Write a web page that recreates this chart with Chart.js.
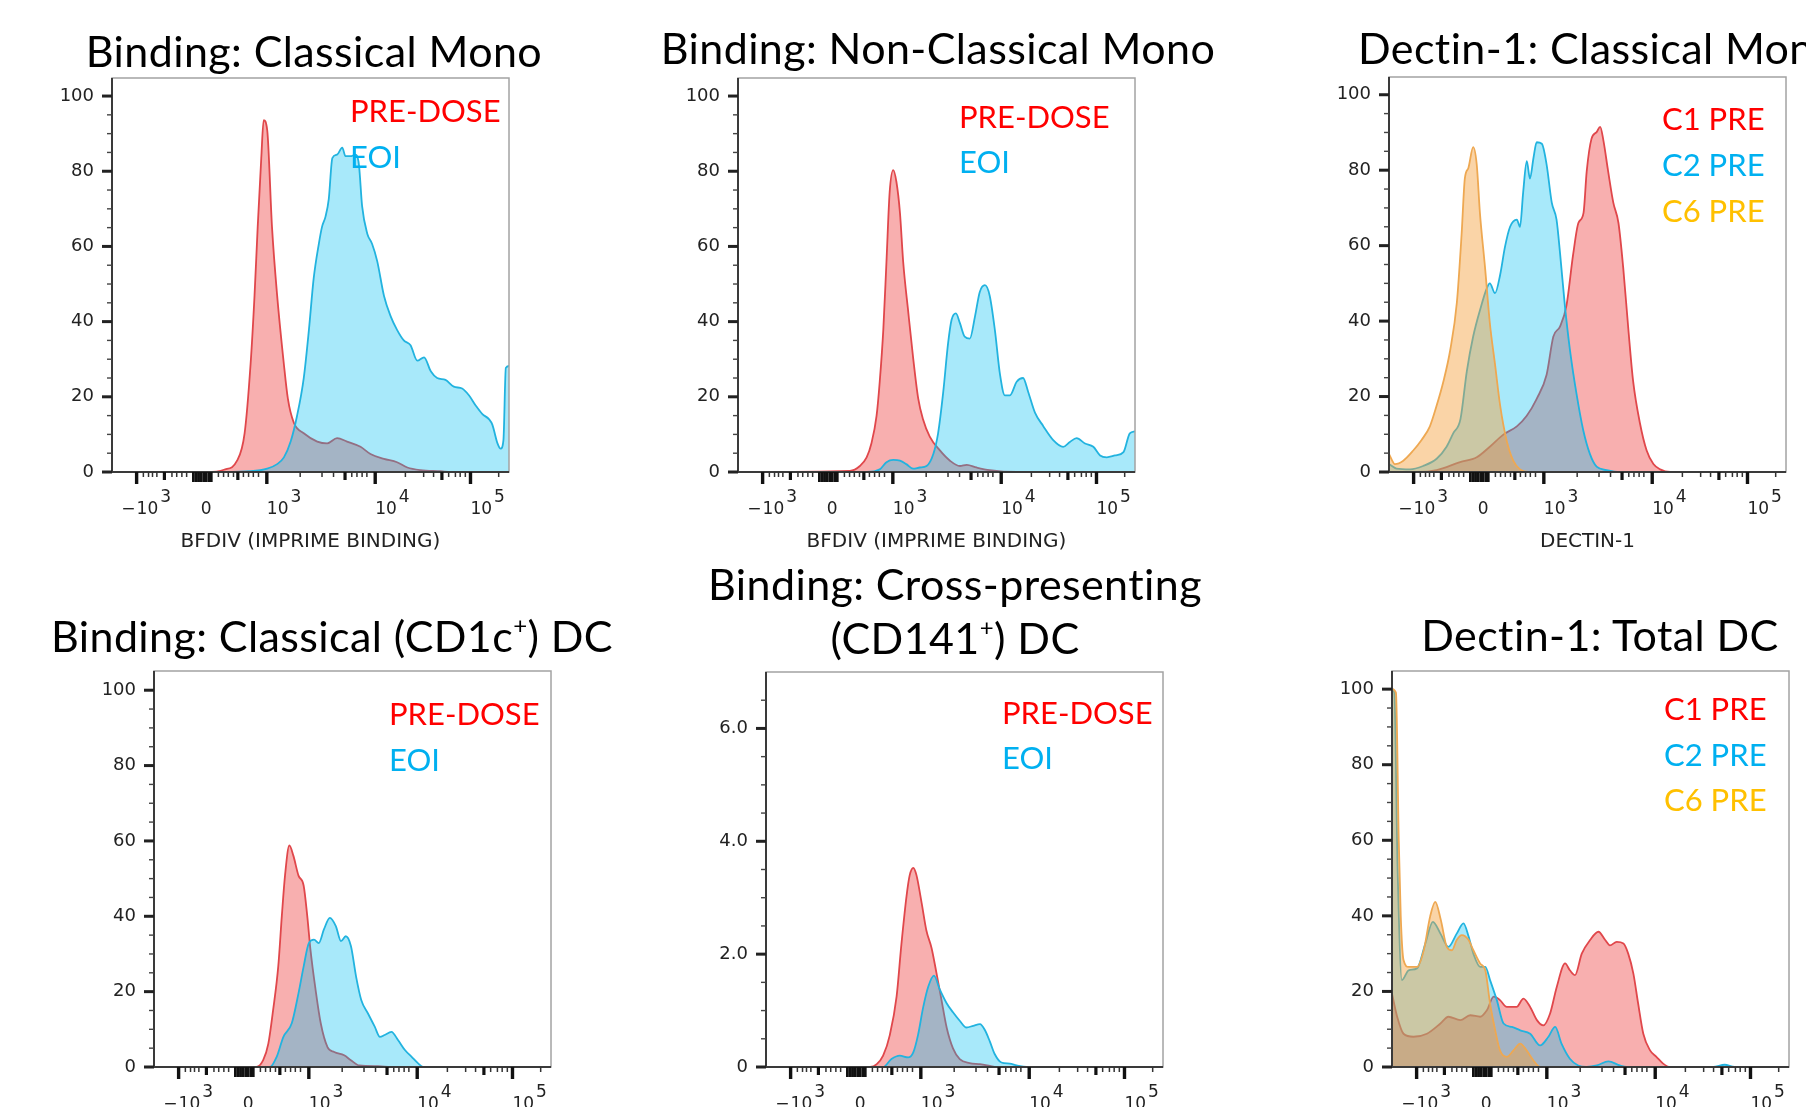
<!DOCTYPE html>
<html>
<head>
<meta charset="utf-8">
<script src="https://cdn.jsdelivr.net/npm/chart.js@4.4.1/dist/chart.umd.min.js"></script>
<style>
  html, body { margin: 0; padding: 0; background: #fff; overflow: hidden; }
  #stage { position: relative; width: 1806px; height: 1107px; overflow: hidden; background: #fff; }
  #stage canvas { position: absolute; }
  .title {
    position: absolute;
    font-family: Lato, "Open Sans", sans-serif;
    font-size: 43px;
    line-height: 43px;
    letter-spacing: 0.4px;
    color: #000;
    white-space: nowrap;
  }
  .title sup { font-size: 24px; line-height: 0; vertical-align: 0; position: relative; top: -18px; }
  .center { transform: translateX(-50%); text-align: center; }
</style>
</head>
<body>
<div id="stage">
  <canvas id="p1"></canvas>
  <canvas id="p2"></canvas>
  <canvas id="p3"></canvas>
  <canvas id="p4"></canvas>
  <canvas id="p5"></canvas>
  <canvas id="p6"></canvas>
  <div class="title center" id="t1">Binding: Classical Mono</div>
  <div class="title center" id="t2">Binding: Non-Classical Mono</div>
  <div class="title" id="t3">Dectin-1: Classical Mono</div>
  <div class="title center" id="t4">Binding: Classical (CD1c<sup>+</sup>) DC</div>
  <div class="title center" id="t5" style="line-height:54px">Binding: Cross-presenting<br>(CD141<sup>+</sup>) DC</div>
  <div class="title center" id="t6">Dectin-1: Total DC</div>
</div>
<script>
// x values are display positions on the biexponential axis (0 = left edge, 100 = right edge)

// shared x axis ticks and labels
const xDecadeTicks = [6.2, 39.0, 66.3, 90.3];
const xHalfTicks = [13.2, 31.7, 58.7, 83.1];
const xZeroTicks = [20.5, 21.2, 21.8, 22.4, 23.1, 23.7, 24.4, 25.0];
const xMinorTicks = [7.9, 9.2, 10.2, 11.3, 15.1, 16.3, 17.6, 18.8, 26.8, 28.1, 29.3, 30.6,
  33.1, 34.4, 35.6, 36.9, 47.4, 52.9, 55.8, 60.4, 61.7, 63.0, 64.2, 73.9, 78.5, 81.0,
  84.8, 86.5, 87.7, 89.0, 97.4];
const xLabelPos = [6.2, 23.7, 39.0, 66.3, 90.3];
const xLabelBase = ["−10", "0", "10", "10", "10"];
const xLabelExp = ["3", "", "3", "4", "5"];

// y axis ticks
const yPctLabels = [0, 20, 40, 60, 80, 100];
const yPctText = ["0", "20", "40", "60", "80", "100"];
const yPctMinor = [5, 10, 15, 25, 30, 35, 45, 50, 55, 65, 70, 75, 85, 90, 95];
const yCdLabels = [0, 2, 4, 6];
const yCdText = ["0", "2.0", "4.0", "6.0"];
const yCdMinor = [0.5, 1, 1.5, 2.5, 3, 3.5, 4.5, 5, 5.5, 6.5];

// Binding: Classical Mono
const p1PreX = [0, 23.9, 28.2, 31.5, 33.4, 34.9, 35.9, 36.7, 37.6, 38.2, 39.1, 40.3, 41.6, 43.3,
  44.3, 45.8, 48.3, 51.7, 54.2, 56.7, 59.2, 62.6, 65.1, 68.5, 71.8, 74.4, 77.7, 82.8, 85.3, 100];
const p1PreY = [0, 0, 0.6, 3.0, 10.3, 28.6, 46.9, 65.2, 83.5, 93.6, 90.9, 65.2, 46.9, 28.6,
  19.5, 13.1, 10.3, 8.1, 7.6, 9.0, 8.1, 6.7, 4.8, 3.5, 2.6, 1.2, 0.5, 0.2, 0, 0];
const p1EoiX = [0, 28.2, 34.9, 39.1, 41.6, 43.3, 45.0, 46.6, 48.3, 49.6, 50.8, 52.1, 52.9, 53.8,
  54.6, 55.5, 56.7, 58.0, 58.8, 60.1, 61.3, 62.2, 63.0, 64.3, 65.5, 66.8, 68.5, 70.2, 71.8,
  73.5, 75.2, 76.9, 78.6, 80.3, 81.9, 84.0, 86.1, 88.2, 89.9, 91.6, 93.3, 95.0, 95.8, 97.1,
  97.9, 98.6, 99.2, 100];
const p1EoiY = [0, 0, 0.2, 0.9, 2.1, 3.9, 8.1, 14.9, 25, 37.8, 51.5, 60.7, 65.2, 68,
  72.6, 83.5, 84.4, 86.3, 84, 84, 84.4, 81.7, 70.7, 63.4, 60.7, 56.1, 46.9, 41.4, 37.8,
  35, 33.7, 29.6, 30.5, 26.8, 25, 24.5, 22.7, 22.2, 20.4, 17.7, 15.4, 14, 12.6, 7.6,
  6.2, 8.5, 27.7, 28.2];

// Binding: Non-Classical Mono
const p2PreX = [0, 28.2, 30.7, 32.4, 33.6, 34.9, 35.7, 36.6, 37.4, 38.2, 39.1, 39.9, 40.8, 41.6,
  42.9, 44.1, 45.4, 46.6, 48.3, 50.8, 53.4, 55.9, 57.6, 60.1, 63.4, 70.2, 100];
const p2PreY = [0, 0.3, 1.6, 3.9, 7.6, 14.9, 24, 37.8, 56, 74.4, 80.3, 77.2, 68.9, 56,
  42.4, 30.5, 19.5, 14, 9.4, 5.8, 3, 1.6, 1.9, 1.2, 0.5, 0, 0];
const p2EoiX = [0, 32.4, 35.7, 37.4, 39.1, 40.8, 42.4, 44.1, 45.8, 47.5, 49.2, 50.4, 51.7, 52.9,
  53.8, 54.9, 55.9, 57.1, 58.4, 59.7, 60.9, 62.2, 63.4, 64.7, 66.0, 67.2, 68.5, 70.2, 71.8,
  73.1, 74.8, 76.9, 79.4, 81.9, 83.6, 85.3, 87.4, 89.5, 91.2, 92.9, 95.0, 97.1, 98.7, 100];
const p2EoiY = [0, 0, 0.7, 2.6, 3.2, 3, 2.1, 0.9, 1.2, 1.6, 4.8, 10.3, 21.3, 34.1,
  40.5, 42.2, 39.6, 36, 35.5, 41.4, 47.9, 49.7, 46.9, 37.8, 25.9, 20.4, 20.4, 24, 25,
  21.3, 15.8, 12.2, 8.5, 6.7, 8, 9, 7.6, 6.7, 4.4, 3.9, 4.4, 5.3, 10.3, 10.8];

// Dectin-1: Classical Mono
const p3C1X = [0, 7, 12, 17.9, 22.1, 25.4, 28.8, 32.2, 34.7, 37.2, 39.7, 41.4, 43.1, 44.7, 46.4,
  47.7, 49, 49.8, 51, 52.3, 53.2, 54, 55.2, 56.5, 57.8, 59, 60.3, 61.5, 63.2, 64.9, 66.6,
  68.3, 70.8, 100];
const p3C1Y = [0, 0, 0.5, 2.6, 3.9, 6.7, 9.9, 12.1, 14.9, 19.4, 25.8, 35.9, 38.6, 44.1, 57.8,
  66, 68.7, 79.7, 88.3, 90.1, 91.5, 87.9, 79.7, 71.4, 66, 54.1, 37.7, 24, 13, 5.7, 2.1,
  0.7, 0, 0];
const p3C2X = [0, 1.9, 5.3, 8.6, 12, 14.5, 16.2, 18, 19.6, 21.2, 23, 24.6, 25.4, 26.7, 28, 29.2,
  30.5, 32.2, 33, 33.8, 34.7, 35.5, 36.4, 37.2, 38.5, 39.7, 41, 42.2, 43.1, 44.3, 45.6,
  47.3, 48.9, 50.6, 52.3, 54.8, 58.2, 100];
const p3C2Y = [2.1, 0.9, 0.7, 1.6, 3.5, 6.7, 10.3, 14, 26.7, 35.9, 43.2, 48.6, 50, 47.4, 52.3, 59.6,
  65, 66.9, 65, 74.2, 82.4, 77.8, 83.3, 87.4, 87, 81.5, 71.4, 66.9, 57.8, 44.1, 32.2,
  20.3, 11.2, 4.8, 1.4, 0.5, 0, 0];
const p3C6X = [0, 1.5, 3.6, 6.1, 8.2, 10.3, 12, 13.7, 15.4, 17.1, 18.3, 19.1, 20, 21.2, 22.1,
  22.9, 24.2, 25.4, 26.7, 28, 29.6, 31.3, 33, 35.1, 100];
const p3C6Y = [4.8, 2.1, 3, 5.7, 8.5, 12.1, 17.6, 24, 32.2, 45, 63.2, 77.8, 80.6, 86.1, 81.5,
  68.7, 54.1, 39.5, 28.6, 17.6, 8.5, 3, 0.7, 0, 0];

// Binding: Classical (CD1c+) DC
const p4PreX = [0, 25.8, 27.5, 28.8, 30, 31.3, 32.2, 33, 34.1, 35.1, 36.4, 37.7, 38.6, 39.4,
  40.7, 42, 43.7, 45.4, 47.9, 49.6, 51.7, 56.4, 59.8, 100];
const p4PreY = [0, 0, 1.8, 6.2, 15.1, 26.7, 40.1, 50.8, 58.8, 56.1, 50.8, 48.1, 40.1, 31.2,
  20.5, 11.6, 5.3, 4, 3.1, 1.8, 0.4, 0.2, 0, 0];
const p4EoiX = [0, 29.2, 30.9, 32.6, 34.7, 36.4, 37.7, 39, 40.3, 41.5, 42.8, 44.3, 45.8, 47.1,
  48.3, 49.6, 50.9, 52.2, 53.9, 55.6, 56.9, 58.1, 59.8, 61.5, 63.2, 64.9, 66.6, 67.9, 100];
const p4EoiY = [0, 0, 2.7, 8, 11.6, 19.6, 26.7, 32.9, 33.8, 32.9, 36.5, 39.6, 37.4, 33.4,
  34.7, 32.1, 24, 17.8, 14.2, 10.7, 8, 8.5, 9.3, 7.1, 4.5, 2.7, 0.9, 0, 0];

// Binding: Cross-presenting (CD141+) DC
const p5PreX = [0, 26.2, 27.9, 29.5, 31.2, 32.9, 34.1, 35.4, 36.2, 37.1, 37.9, 39.2, 40.4, 41.7,
  42.9, 44.2, 45.5, 47.1, 48.8, 51.3, 53.9, 56.4, 58, 100];
const p5PreY = [0, 0, 0.05, 0.2, 0.57, 1.25, 2.17, 3.03, 3.4, 3.53, 3.4, 2.91, 2.42, 2.11,
  1.68, 1.19, 0.7, 0.33, 0.14, 0.07, 0.05, 0.02, 0, 0];
const p5EoiX = [0, 29.5, 31.6, 33.7, 35.8, 37.1, 38.3, 39.6, 40.9, 42.3, 43.8, 45.5, 47.1, 48.8,
  50.5, 52.2, 53.9, 55.1, 56.4, 57.6, 59.3, 61.4, 63.1, 65.6, 100];
const p5EoiY = [0, 0, 0.14, 0.2, 0.17, 0.26, 0.57, 1.06, 1.43, 1.62, 1.37, 1.13, 0.97, 0.82,
  0.7, 0.73, 0.76, 0.66, 0.45, 0.23, 0.08, 0.06, 0.03, 0, 0];

// Dectin-1: Total DC
const p6C1X = [0, 1.3, 2.9, 5.4, 8.8, 12.2, 14.2, 17.2, 19.7, 22.2, 23.9, 25.6, 27.2, 28.9, 31.4,
  33.1, 34.8, 36.5, 38.1, 39.8, 41.5, 43.6, 44.8, 46.1, 47.8, 49.9, 52, 53.7, 54.9, 56.6,
  58.3, 59.5, 60.8, 62, 63.3, 65, 66.6, 68.3, 70, 100];
const p6C1Y = [19.4, 13.3, 8.8, 8, 8.8, 11.5, 13.3, 12.4, 13.7, 13.3, 15, 18.6, 17.7, 15.9, 15.9,
  18.1, 15.9, 12.4, 11, 14.1, 21.2, 27.4, 25.6, 24.3, 30, 33.6, 35.8, 33.6, 32.2, 33.1,
  32.7, 30, 24.7, 16.8, 8.8, 4.4, 2.7, 0.9, 0, 0];
const p6C2X = [0, 0.6, 1.4, 2.5, 4.2, 6.3, 8.4, 10.3, 12.2, 14.2, 16.3, 18, 19.3, 20.5, 22.2,
  23.5, 24.7, 26.4, 28.1, 30.2, 32.3, 34.8, 37.3, 39.4, 41.1, 42.7, 44.8, 46.9, 49, 51.6,
  54.5, 57.4, 59.1, 80.9, 83.8, 86.3, 100];
const p6C2Y = [100, 99, 53, 23, 25.6, 26.1, 32.7, 38.4, 35.3, 31.8, 35.3, 38, 34.5, 30, 26.5,
  26.5, 23, 17.7, 11.5, 10.6, 9.7, 8.8, 5.7, 8, 10.6, 6.2, 2.2, 0.4, 0, 0.4,
  1.5, 0.4, 0, 0, 0.6, 0, 0];
const p6C6X = [0, 1.0, 1.7, 2.2, 2.9, 4.2, 6.3, 8, 9.6, 10.9, 12.3, 13.8, 15.1, 16.3, 17.6, 19.3,
  20.5, 22.2, 23.5, 24.7, 26, 27.2, 28.9, 30.6, 32.3, 33.9, 35.6, 37.3, 100];
const p6C6Y = [100, 99, 60, 40, 28.3, 26.5, 26.5, 30.9, 39.8, 43.7, 38.9, 31.8, 30.9, 33.6, 34.9, 33.6,
  30.9, 27.4, 25.6, 16.8, 9.7, 4.4, 2.7, 4.4, 6.2, 4.4, 1.8, 0, 0];

const RED = { line: "#e0474b", fill: "rgba(239, 65, 65, 0.42)", text: "#ff0000" };
const BLUE = { line: "#22b3df", fill: "rgba(0, 190, 240, 0.34)", text: "#00b0f0" };
const ORANGE = { line: "#eea852", fill: "rgba(245, 160, 60, 0.45)", text: "#ffc000" };

const Y_PAD = 75;
const TOP_PAD = 30;
const RIGHT_PAD = 20;
const X_AXIS_H = 82;

function toPoints(xs, ys) {
  return xs.map((x, i) => ({ x: x, y: ys[i] }));
}

function histo(label, xs, ys, col, order) {
  return {
    label: label,
    data: toPoints(xs, ys),
    borderColor: col.line,
    backgroundColor: col.fill,
    legendColor: col.text,
    borderWidth: 1.8,
    pointRadius: 0,
    fill: "origin",
    cubicInterpolationMode: "monotone",
    order: order,
  };
}

function drawTick(ctx, x1, y1, x2, y2, w) {
  ctx.lineWidth = w;
  ctx.beginPath();
  ctx.moveTo(x1, y1);
  ctx.lineTo(x2, y2);
  ctx.stroke();
}

// frame, axis tick marks and biexponential tick labels
const flowFrame = {
  id: "flowFrame",
  afterDatasetsDraw(chart, args, opts) {
    const { ctx, chartArea: a, scales } = chart;
    const x = scales.x;
    const y = scales.y;
    ctx.save();
    ctx.lineCap = "butt";
    ctx.strokeStyle = "#a3a3a3";
    ctx.lineWidth = 1.5;
    ctx.strokeRect(a.left, a.top, a.right - a.left, a.bottom - a.top);

    ctx.strokeStyle = "#3a3a3a";
    ctx.lineWidth = 2;
    ctx.beginPath();
    ctx.moveTo(a.left, a.top);
    ctx.lineTo(a.left, a.bottom);
    ctx.lineTo(a.right, a.bottom);
    ctx.stroke();

    ctx.strokeStyle = "#222";
    opts.yMajor.forEach((v) => {
      const py = y.getPixelForValue(v);
      drawTick(ctx, a.left - 10, py, a.left, py, 3);
    });
    ctx.strokeStyle = "#444";
    opts.yMinor.forEach((v) => {
      const py = y.getPixelForValue(v);
      drawTick(ctx, a.left - 5, py, a.left, py, 1.4);
    });

    const b = a.bottom;
    ctx.strokeStyle = "#111";
    xDecadeTicks.forEach((v) => {
      const px = x.getPixelForValue(v);
      drawTick(ctx, px, b, px, b + 12, 3.4);
    });
    xZeroTicks.forEach((v) => {
      const px = x.getPixelForValue(v);
      drawTick(ctx, px, b, px, b + 10, 2.8);
    });
    xHalfTicks.forEach((v) => {
      const px = x.getPixelForValue(v);
      drawTick(ctx, px, b, px, b + 8, 3.2);
    });
    ctx.strokeStyle = "#333";
    xMinorTicks.forEach((v) => {
      const px = x.getPixelForValue(v);
      drawTick(ctx, px, b, px, b + 5, 1.5);
    });

    ctx.fillStyle = "#222";
    ctx.font = '17px "DejaVu Sans"';
    ctx.textBaseline = "alphabetic";
    const by = b + 42;
    xLabelPos.forEach((v, i) => {
      const px = x.getPixelForValue(v);
      const base = xLabelBase[i];
      const exp = xLabelExp[i];
      if (!exp) {
        ctx.textAlign = "center";
        ctx.fillText(base, px, by);
        return;
      }
      const digits = base.replace("−", "");
      ctx.textAlign = "right";
      if (digits.length < base.length) ctx.fillText("−", px - 1, by);
      ctx.textAlign = "left";
      ctx.fillText(digits, px, by);
      const w = ctx.measureText(digits).width;
      ctx.fillText(exp, px + w + 2, by - 12);
    });
    ctx.restore();
  },
};

// dataset names written inside the plot, top right
const cornerLegend = {
  id: "cornerLegend",
  afterDraw(chart, args, opts) {
    const { ctx, chartArea: a } = chart;
    ctx.save();
    ctx.font = "31px Lato";
    ctx.textAlign = "left";
    ctx.textBaseline = "alphabetic";
    chart.data.datasets.forEach((ds, i) => {
      ctx.fillStyle = ds.legendColor;
      ctx.fillText(ds.label, a.left + opts.dx, a.top + opts.y0 + i * opts.dy);
    });
    ctx.restore();
  },
};

function makePanel(id, box, yMax, yLabels, yText, yMinor, xTitle, datasets, legend) {
  const canvas = document.getElementById(id);
  const w = box.w + Y_PAD + RIGHT_PAD;
  const h = box.h + TOP_PAD + X_AXIS_H;
  canvas.width = w;
  canvas.height = h;
  canvas.style.left = box.left - Y_PAD + "px";
  canvas.style.top = box.top - TOP_PAD + "px";
  canvas.style.width = w + "px";
  canvas.style.height = h + "px";

  return new Chart(canvas.getContext("2d"), {
    type: "line",
    data: { datasets: datasets },
    plugins: [flowFrame, cornerLegend],
    options: {
      responsive: false,
      animation: false,
      devicePixelRatio: 1,
      layout: { padding: { left: 0, top: TOP_PAD, right: RIGHT_PAD, bottom: 0 } },
      plugins: {
        legend: { display: false },
        tooltip: { enabled: false },
        flowFrame: { yMajor: yLabels, yMinor: yMinor },
        cornerLegend: legend,
      },
      scales: {
        x: {
          type: "linear",
          min: 0,
          max: 100,
          grid: { display: false, drawTicks: false },
          border: { display: false },
          ticks: { display: false },
          title: {
            display: !!xTitle,
            text: xTitle,
            color: "#222",
            font: { family: "DejaVu Sans", size: 20 },
            padding: { top: 0, bottom: 0 },
          },
          afterFit: (scale) => { scale.height = X_AXIS_H; },
        },
        y: {
          type: "linear",
          min: 0,
          max: yMax,
          grid: { display: false, drawTicks: false },
          border: { display: false },
          afterBuildTicks: (scale) => { scale.ticks = yLabels.map((v) => ({ value: v })); },
          ticks: {
            color: "#222",
            padding: 18,
            font: { family: "DejaVu Sans", size: 18 },
            callback: (v, i) => yText[i],
          },
          afterFit: (scale) => { scale.width = Y_PAD; },
        },
      },
    },
  });
}

function placeTitle(id, x, baseline, ascentOffset) {
  const el = document.getElementById(id);
  el.style.left = x + "px";
  el.style.top = baseline - ascentOffset + "px";
}

makePanel("p1", { left: 112, top: 78, w: 397, h: 394 }, 104.8, yPctLabels, yPctText, yPctMinor,
  "BFDIV (IMPRIME BINDING)",
  [histo("PRE-DOSE", p1PreX, p1PreY, RED, 2), histo("EOI", p1EoiX, p1EoiY, BLUE, 1)],
  { dx: 238, y0: 44, dy: 46 });

makePanel("p2", { left: 738, top: 78, w: 397, h: 394 }, 104.8, yPctLabels, yPctText, yPctMinor,
  "BFDIV (IMPRIME BINDING)",
  [histo("PRE-DOSE", p2PreX, p2PreY, RED, 2), histo("EOI", p2EoiX, p2EoiY, BLUE, 1)],
  { dx: 221, y0: 50, dy: 45 });

makePanel("p3", { left: 1389, top: 77, w: 397, h: 395 }, 104.7, yPctLabels, yPctText, yPctMinor,
  "DECTIN-1",
  [histo("C1 PRE", p3C1X, p3C1Y, RED, 3), histo("C2 PRE", p3C2X, p3C2Y, BLUE, 2),
   histo("C6 PRE", p3C6X, p3C6Y, ORANGE, 1)],
  { dx: 273, y0: 53, dy: 46 });

makePanel("p4", { left: 154, top: 671, w: 397, h: 396 }, 105.1, yPctLabels, yPctText, yPctMinor,
  "",
  [histo("PRE-DOSE", p4PreX, p4PreY, RED, 2), histo("EOI", p4EoiX, p4EoiY, BLUE, 1)],
  { dx: 235, y0: 54, dy: 46 });

makePanel("p5", { left: 766, top: 672, w: 397, h: 395 }, 7.0, yCdLabels, yCdText, yCdMinor,
  "",
  [histo("PRE-DOSE", p5PreX, p5PreY, RED, 2), histo("EOI", p5EoiX, p5EoiY, BLUE, 1)],
  { dx: 236, y0: 52, dy: 45 });

makePanel("p6", { left: 1392, top: 671, w: 397, h: 396 }, 104.8, yPctLabels, yPctText, yPctMinor,
  "",
  [histo("C1 PRE", p6C1X, p6C1Y, RED, 3), histo("C2 PRE", p6C2X, p6C2Y, BLUE, 2),
   histo("C6 PRE", p6C6X, p6C6Y, ORANGE, 1)],
  { dx: 272, y0: 49, dy: 45.5 });

placeTitle("t1", 314, 67, 38);
placeTitle("t2", 938, 64, 38);
placeTitle("t3", 1358, 64, 38);
placeTitle("t4", 332, 652, 38);
placeTitle("t5", 955, 600, 43);
placeTitle("t6", 1600, 651, 38);
</script>
</body>
</html>
